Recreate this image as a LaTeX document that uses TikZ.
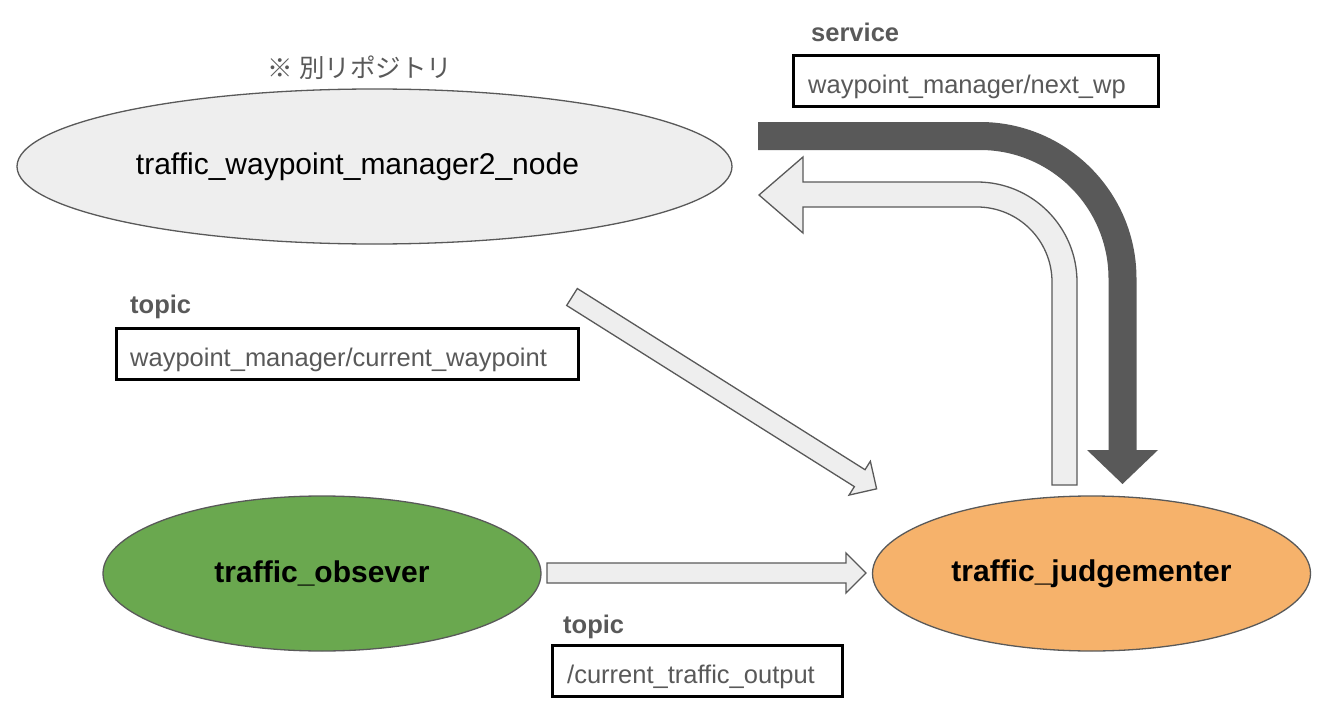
\documentclass[tikz,border=0pt]{standalone}
\usepackage{fontspec}
\setmainfont{Liberation Sans}
\newfontfamily\jpfont{Noto Sans CJK JP}
\usepackage{tikz}
\usetikzlibrary{
    calc,
    positioning,
    shapes.geometric
}
\definecolor{nodegray}{HTML}{EEEEEE}
\definecolor{edgegray}{HTML}{595959}
\definecolor{obsgreen}{HTML}{6AA84F}
\definecolor{judgeorange}{HTML}{F6B26B}
\definecolor{darkarrow}{HTML}{595959}
\newcommand{\bigtxt}{\fontsize{30}{36}\selectfont}
\newcommand{\lbltxt}{\fontsize{25.5}{30}\selectfont}
\tikzset{
    procnode/.style={ellipse, draw=edgegray, line width=1.3pt, inner sep=0pt,
                     minimum width=438pt, minimum height=155pt, text=black},
    namebox/.style={draw=black, line width=3pt, inner sep=0pt, anchor=north west},
    kindlbl/.style={anchor=base west, inner sep=0pt, text=edgegray, font=\lbltxt\bfseries},
    boxlbl/.style={anchor=base west, inner sep=0pt, text=edgegray, font=\lbltxt},
    blockarrow/.style={fill=nodegray, draw=edgegray, line width=1.3pt, line join=miter}
}

\begin{document}
\begin{tikzpicture}[x=1pt,y=1pt]
    \useasboundingbox (0,0) rectangle (1331,-717);

    % processes
    \node[procnode, fill=nodegray, minimum width=715pt] (wpm) at (374.5,-166.5) {};
    \node[font=\bigtxt, inner sep=0pt] (wpmtxt) at ([xshift=-17pt]wpm.center) {traffic\_waypoint\_manager2\_node};
    \node[font=\jpfont\lbltxt, text=edgegray, inner sep=0pt] (other) at (360,-68) {※ 別リポジトリ};
    \node[procnode, fill=obsgreen, font=\bigtxt\bfseries] (obs) at (322,-573.5) {traffic\_obsever};
    \node[procnode, fill=judgeorange, font=\bigtxt\bfseries] (judge) at (1091.5,-573.5) {traffic\_judgementer};

    % interface boxes
    \node[namebox, minimum width=365pt, minimum height=51pt] (svc) at (792,-54) {};
    \node[boxlbl] at ([xshift=16pt, yshift=-39pt]svc.north west) {waypoint\_manager/next\_wp};
    \node[kindlbl] at ([xshift=19pt, yshift=12pt]svc.north west) {service};

    \node[namebox, minimum width=462pt, minimum height=51pt] (cwp) at (115,-327) {};
    \node[boxlbl] at ([xshift=15pt, yshift=-39pt]cwp.north west) {waypoint\_manager/current\_waypoint};
    \node[kindlbl] at ([xshift=15pt, yshift=14pt]cwp.north west) {topic};

    \node[namebox, minimum width=290pt, minimum height=51pt] (cto) at (551,-644) {};
    \node[boxlbl] at ([xshift=16pt, yshift=-39pt]cto.north west) {/current\_traffic\_output};
    \node[kindlbl] at ([xshift=12pt, yshift=11pt]cto.north west) {topic};

    % service call (dark)
    \draw[darkarrow, line width=28pt] (758,-136) -- (980,-136)
        arc[start angle=90, end angle=0, radius=142.5] -- (1122.5,-451);
    \fill[darkarrow] (1087,-450) -- (1158,-450) -- (1122.5,-484) -- cycle;

    % service response
    \draw[blockarrow] (1052,-485) -- (1052,-282)
        arc[start angle=0, end angle=90, radius=75] -- (803,-207) -- (803,-233)
        -- (759,-195) -- (803,-157) -- (803,-182) -- (977,-182)
        arc[start angle=90, end angle=0, radius=100] -- (1077,-485) -- cycle;

    % current waypoint
    \begin{scope}[shift={(572,-297)}, rotate=-32.2]
        \draw[blockarrow] (0,10) -- (340,10) -- (340,20) -- (360,0)
            -- (340,-20) -- (340,-10) -- (0,-10) -- cycle;
    \end{scope}

    % traffic output
    \begin{scope}[shift={(547,-573)}]
        \draw[blockarrow] (0,10) -- (299,10) -- (299,20) -- (319,0)
            -- (299,-20) -- (299,-10) -- (0,-10) -- cycle;
    \end{scope}
\end{tikzpicture}
\end{document}
